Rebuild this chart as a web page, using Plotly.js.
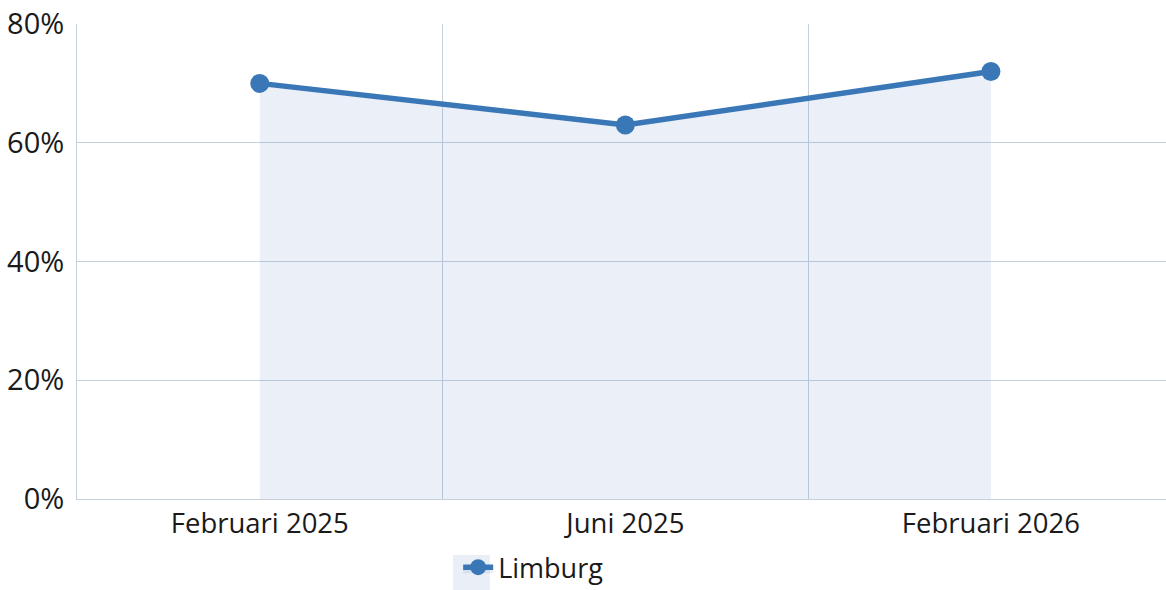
<!DOCTYPE html>
<html>
<head>
<meta charset="utf-8">
<script src="https://cdn.plot.ly/plotly-3.0.1.min.js"></script>
<style>html,body{margin:0;padding:0;background:#fff;}#chart{width:1166px;height:590px;}</style>
</head>
<body>
<div id="chart"></div>
<script>
const categories = ["Februari 2025", "Juni 2025", "Februari 2026"];
const limburgValues = [0.70, 0.63, 0.72];
const seriesName = "Limburg";
const yTickVals = [0, 0.2, 0.4, 0.6, 0.8];
const yTickText = ["0%", "20%", "40%", "60%", "80%"];

const trace = {
  type: "scatter",
  mode: "lines+markers",
  x: categories,
  y: limburgValues,
  name: seriesName,
  fill: "tozeroy",
  fillcolor: "rgba(62,105,185,0.105)",
  line: {color: "#3a77b7", width: 5.5},
  marker: {color: "#3a77b7", size: 19},
  hoverinfo: "skip"
};

const layout = {
  width: 1166, height: 590,
  margin: {l: 77, r: 0, t: 24, b: 91},
  paper_bgcolor: "#ffffff",
  plot_bgcolor: "#ffffff",
  font: {family: "Open Sans, Noto Sans, sans-serif", color: "#1a1a1a", size: 28},
  showlegend: true,
  legend: {orientation: "h", x: 0.35, xanchor: "left",
           yref: "container", y: 0.038, yanchor: "middle",
           font: {size: 27}, bgcolor: "rgba(0,0,0,0)"},
  shapes: [{
    type: "rect", xref: "paper", yref: "paper", layer: "below",
    x0: 0.3453, x1: 0.3792, y0: -0.118, y1: -0.196,
    fillcolor: "#eaeff7", line: {width: 0}
  }],
  xaxis: {
    type: "category",
    range: [-0.5, 2.479],
    tickson: "boundaries",
    showgrid: true, gridcolor: "#c5d0dc", gridwidth: 1,
    showline: true, linecolor: "#c5d0dc", linewidth: 1,
    ticks: "", tickfont: {size: 27.5},
    fixedrange: true,
    automargin: false
  },
  yaxis: {
    range: [0, 0.8],
    tickvals: yTickVals, ticktext: yTickText,
    showgrid: true, gridcolor: "#c5d0dc", gridwidth: 1,
    showline: true, linecolor: "#c5d0dc", linewidth: 1,
    zeroline: false,
    ticks: "", tickfont: {size: 29},
    ticklabelstandoff: 6,
    fixedrange: true,
    automargin: false
  }
};

Plotly.newPlot("chart", [trace], layout, {displayModeBar: false, staticPlot: true});
</script>
</body>
</html>
